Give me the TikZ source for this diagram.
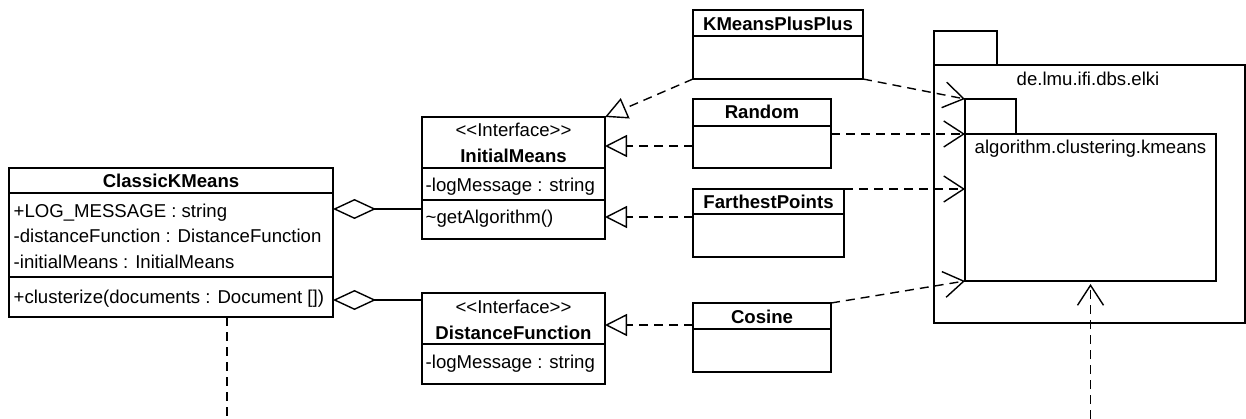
\documentclass[tikz,border=0pt]{standalone}
\usepackage{fontspec}
\setmainfont{Liberation Sans}
\usetikzlibrary{arrows.meta,calc}
\begin{document}
\begin{tikzpicture}[x=1pt,y=-1pt,line width=1.4pt,
  cls/.style={draw,rectangle,inner sep=0pt,outer sep=0pt,anchor=north west},
  txt/.style={inner sep=0pt,anchor=base west,font=\fontsize{18.6}{22}\selectfont},
  ctxt/.style={inner sep=0pt,anchor=base,font=\fontsize{18.6}{22}\selectfont},
  ttl/.style={inner sep=0pt,anchor=base,font=\fontsize{18.6}{22}\selectfont\bfseries},
  dashline/.style={dash pattern=on 9pt off 6pt},
  realize/.style={dashline,-{Triangle[open,length=22pt,width=22pt]}},
  depend/.style={dashline,-{Straight Barb[length=20pt,width=26pt]}},
  aggr/.style={{Diamond[open,length=43pt,width=20pt]}-}]
\useasboundingbox (0,0) rectangle (1246,419);

% ClassicKMeans
\node[cls,minimum width=324pt,minimum height=149pt] (ckm) at (9,168) {};
\draw ([yshift=-25pt]ckm.north west) -- ([yshift=-25pt]ckm.north east);
\draw ([yshift=-109pt]ckm.north west) -- ([yshift=-109pt]ckm.north east);
\node[ttl] (ckmt) at (171,188) {ClassicKMeans};
\node[txt] (ckma1) at (13,218) {+LOG\_MESSAGE : string};
\node[txt] (ckma2) at (13,243) {-distanceFunction : DistanceFunction};
\node[txt] (ckma3) at (13,269) {-initialMeans : InitialMeans};
\node[txt] (ckmm1) at (13,303) {+clusterize(documents : Document [])};

% InitialMeans interface
\node[cls,minimum width=183pt,minimum height=122pt] (im) at (422,117) {};
\draw ([yshift=-51pt]im.north west) -- ([yshift=-51pt]im.north east);
\draw ([yshift=-83pt]im.north west) -- ([yshift=-83pt]im.north east);
\node[ctxt] (ims) at (513.5,137) {<{}<Interface>{}>};
\node[ttl] (imt) at (513.5,163) {InitialMeans};
\node[txt] (ima1) at (425,192) {-logMessage : string};
\node[txt] (imm1) at (425,224) {\char`\~getAlgorithm()};

% DistanceFunction interface
\node[cls,minimum width=183pt,minimum height=91pt] (df) at (422,293) {};
\draw ([yshift=-51pt]df.north west) -- ([yshift=-51pt]df.north east);
\node[ctxt] (dfs) at (513.5,313) {<{}<Interface>{}>};
\node[ttl] (dft) at (513.5,339) {DistanceFunction};
\node[txt] (dfa1) at (425,368) {-logMessage : string};

% Implementing classes
\node[cls,minimum width=170pt,minimum height=69pt] (kpp) at (693,10) {};
\draw ([yshift=-26pt]kpp.north west) -- ([yshift=-26pt]kpp.north east);
\node[ttl] (kppt) at (778,31) {KMeansPlusPlus};

\node[cls,minimum width=138pt,minimum height=69pt] (ran) at (693,99) {};
\draw ([yshift=-27pt]ran.north west) -- ([yshift=-27pt]ran.north east);
\node[ttl] (rant) at (762,119) {Random};

\node[cls,minimum width=151pt,minimum height=68pt] (fp) at (693,189) {};
\draw ([yshift=-25pt]fp.north west) -- ([yshift=-25pt]fp.north east);
\node[ttl] (fpt) at (768.5,209) {FarthestPoints};

\node[cls,minimum width=138pt,minimum height=69pt] (cos) at (693,303) {};
\draw ([yshift=-26pt]cos.north west) -- ([yshift=-26pt]cos.north east);
\node[ttl] (cost) at (762,323) {Cosine};

% Packages
\node[cls,minimum width=63pt,minimum height=34pt] (pkgtab) at (934,31) {};
\node[cls,minimum width=311pt,minimum height=258pt] (pkg) at (934,65) {};
\node[ctxt] (pkgn) at (1088,86) {de.lmu.ifi.dbs.elki};
\node[cls,minimum width=51pt,minimum height=35pt] (kpkgtab) at (965,99) {};
\node[cls,minimum width=251pt,minimum height=147pt] (kpkg) at (965,134) {};
\node[txt] (kpkgn) at (974,154) {algorithm.clustering.kmeans};

% Aggregations
\draw[aggr] ([yshift=33.5pt]ckm.east) -- ([yshift=33.5pt]ckm.east -| im.west);
\draw[aggr] ([yshift=-57.5pt]ckm.east) -- ([yshift=-57.5pt]ckm.east -| df.west);

% Realizations
\draw[realize] (kpp.south west) -- (im.north east);
\draw[realize] ([yshift=-12.5pt]ran.west) -- ([yshift=-12.5pt]ran.west -| im.east);
\draw[realize] ([yshift=6pt]fp.west) -- ([yshift=6pt]fp.west -| im.east);
\draw[realize] ([yshift=12.5pt]cos.west) -- ([yshift=12.5pt]cos.west -| df.east);

% Dependencies on the kmeans package
\draw[depend] (kpp.south east) -- (kpkgtab.north west);
\draw[depend] (ran.north east |- kpkg.north west) -- (kpkg.north west);
\draw[depend] (fp.north east) -- (fp.north east -| kpkg.west);
\draw[depend] (cos.north east) -- (kpkg.south west);
\coordinate (below) at (1090.5,419);
\draw[depend] (below) -- ([yshift=-3pt]kpkg.south);
\coordinate (ckmout) at (227,419);
\draw[dashline] ([xshift=56pt]ckm.south) -- (ckmout);
\end{tikzpicture}
\end{document}
